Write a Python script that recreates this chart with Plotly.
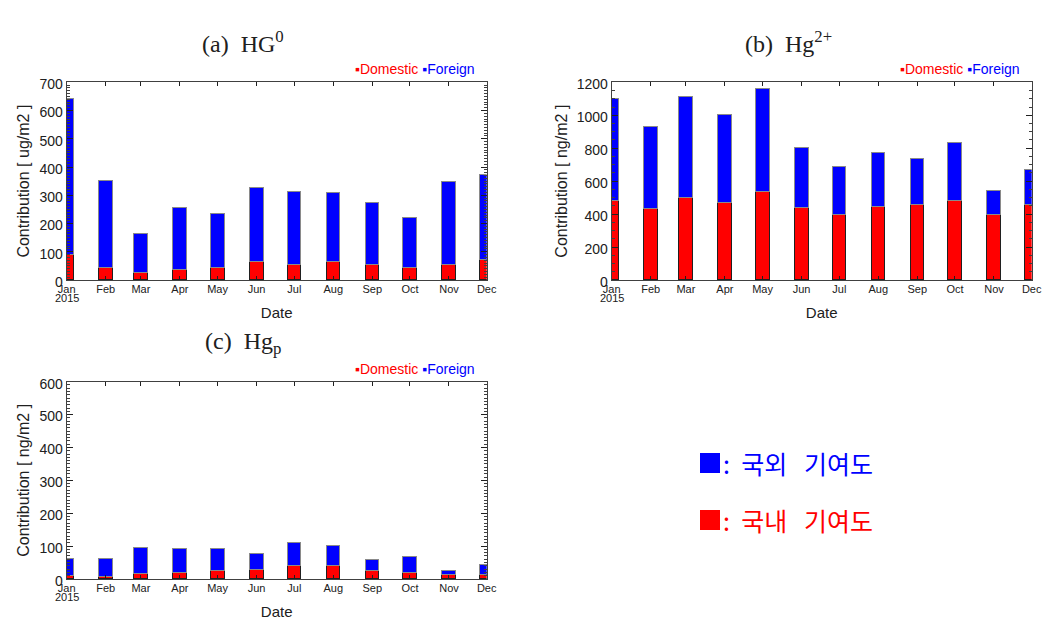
import plotly.graph_objects as go

# ---------------- data ----------------
months = ["2015-01-01", "2015-02-01", "2015-03-01", "2015-04-01", "2015-05-01", "2015-06-01",
          "2015-07-01", "2015-08-01", "2015-09-01", "2015-10-01", "2015-11-01", "2015-12-01"]
month_labels = ["Jan", "Feb", "Mar", "Apr", "May", "Jun",
                "Jul", "Aug", "Sep", "Oct", "Nov", "Dec"]
year_label = "2015"

hg0_domestic = [89, 43, 22, 35, 40, 62, 51, 64, 53, 40, 51, 71]
hg0_foreign = [551, 306, 139, 219, 192, 262, 258, 242, 219, 180, 294, 299]

hg2_domestic = [480, 429, 496, 466, 530, 433, 390, 443, 455, 476, 390, 455]
hg2_foreign = [615, 496, 611, 536, 626, 367, 296, 324, 278, 352, 150, 213]

hgp_domestic = [11, 7, 16, 20, 25, 28, 40, 41, 25, 20, 13, 13]
hgp_foreign = [52, 55, 80, 73, 68, 50, 71, 61, 33, 49, 13, 30]

panel_titles = ["(a)  HG<sup>0</sup>", "(b)  Hg<sup>2+</sup>", "(c)  Hg<sub>p</sub>"]
y_titles = ["Contribution [ ug/m2 ]", "Contribution [ ng/m2 ]", "Contribution [ ng/m2 ]"]
y_ranges = [[0, 700], [0, 1200], [0, 600]]
y_dticks = [100, 200, 100]
y_minor = [10, 50, 10]

RED = "#ff0000"
BLUE = "#0000ff"
W = 1061
H = 622
BAR_W = 10.9 * 86400000  # ms

# plot-area pixel boxes (left, right, top, bottom)
boxes = [(66.7, 486.7, 82.3, 280.0), (611.7, 1031.7, 82.3, 280.0), (66.7, 486.7, 381.7, 579.0)]
title_x = [243, 788, 243]
title_y = [42, 42, 343]

fig = go.Figure()
series = [(hg0_domestic, hg0_foreign), (hg2_domestic, hg2_foreign), (hgp_domestic, hgp_foreign)]
for i, (dom, forg) in enumerate(series):
    sfx = "" if i == 0 else str(i + 1)
    fig.add_trace(go.Bar(x=months, y=dom, width=BAR_W, marker=dict(color=RED, line=dict(color="#202020", width=1)),
                         xaxis="x" + sfx, yaxis="y" + sfx, showlegend=False))
    fig.add_trace(go.Bar(x=months, y=forg, width=BAR_W, marker=dict(color=BLUE, line=dict(color="#8a8a8a", width=1)),
                         xaxis="x" + sfx, yaxis="y" + sfx, showlegend=False))

layout = dict(width=W, height=H, margin=dict(l=0, r=0, t=0, b=0, autoexpand=False), paper_bgcolor="white",
              plot_bgcolor="white", barmode="stack", bargap=0, showlegend=False)

annotations = []
for i, (l, r, t, b) in enumerate(boxes):
    sfx = "" if i == 0 else str(i + 1)
    xa = dict(domain=[l / W, r / W], anchor="y" + sfx, type="date", automargin=False,
              range=["2015-01-01", "2015-12-01"], tickmode="array", tickvals=months, ticktext=month_labels,
              ticks="inside", ticklen=4, tickcolor="#202020", showline=True, linecolor="#404040", linewidth=1,
              mirror="ticks", showgrid=False, zeroline=False, ticklabelstandoff=-1,
              tickfont=dict(family="Liberation Sans", size=11, color="#202020"),
              title=dict(text="Date", font=dict(family="Liberation Sans", size=15, color="#202020"), standoff=13))
    ya = dict(domain=[1 - b / H, 1 - t / H], anchor="x" + sfx, range=y_ranges[i], dtick=y_dticks[i],
              automargin=False, ticklabelshift=2,
              ticks="inside", ticklen=6, tickcolor="#202020", showline=True, linecolor="#404040", linewidth=1,
              mirror="ticks", showgrid=False, zeroline=False,
              minor=dict(ticks="inside", ticklen=3, dtick=y_minor[i], tickcolor="#404040"),
              tickfont=dict(family="Liberation Sans", size=14, color="#202020"),
              title=dict(text=y_titles[i], font=dict(family="Liberation Sans", size=16, color="#202020"), standoff=5))
    layout["xaxis" + sfx] = xa
    layout["yaxis" + sfx] = ya

    # year under the first tick
    annotations.append(dict(text=year_label, xref="x" + sfx, yref="paper", x=months[0],
                            y=1 - (b + 18) / H, showarrow=False, xanchor="center", yanchor="middle",
                            font=dict(family="Liberation Sans", size=11, color="#202020")))
    # panel title
    annotations.append(dict(text=panel_titles[i], xref="paper", yref="paper",
                            x=title_x[i] / W, y=1 - title_y[i] / H, showarrow=False,
                            xanchor="center", yanchor="middle",
                            font=dict(family="Liberation Serif", size=24, color="#202020")))
    # small legend
    annotations.append(dict(text="<span style='color:%s'>▪Domestic</span> <span style='color:%s'>▪Foreign</span>" % (RED, BLUE),
                            xref="paper", yref="paper", x=(r - 10) / W, y=1 - (t - 13) / H,
                            showarrow=False, xanchor="right", yanchor="middle",
                            font=dict(family="Liberation Sans", size=14)))

# big Korean legend
legend_items = [(BLUE, ":  국외\u00a0\u00a0 기여도", 463), (RED, ":  국내\u00a0\u00a0 기여도", 520)]
shapes = []
for color, label, yc in legend_items:
    shapes.append(dict(type="rect", xref="paper", yref="paper", x0=700 / W, x1=720 / W,
                       y0=1 - (yc + 10) / H, y1=1 - (yc - 10) / H, fillcolor=color, line=dict(width=0)))
    annotations.append(dict(text=label, xref="paper", yref="paper", x=721 / W, y=1 - yc / H,
                            showarrow=False, xanchor="left", yanchor="middle",
                            font=dict(family="Noto Sans CJK KR", size=25, color=color)))

layout["annotations"] = annotations
layout["shapes"] = shapes
fig.update_layout(**layout)
fig.write_html("out.html")
